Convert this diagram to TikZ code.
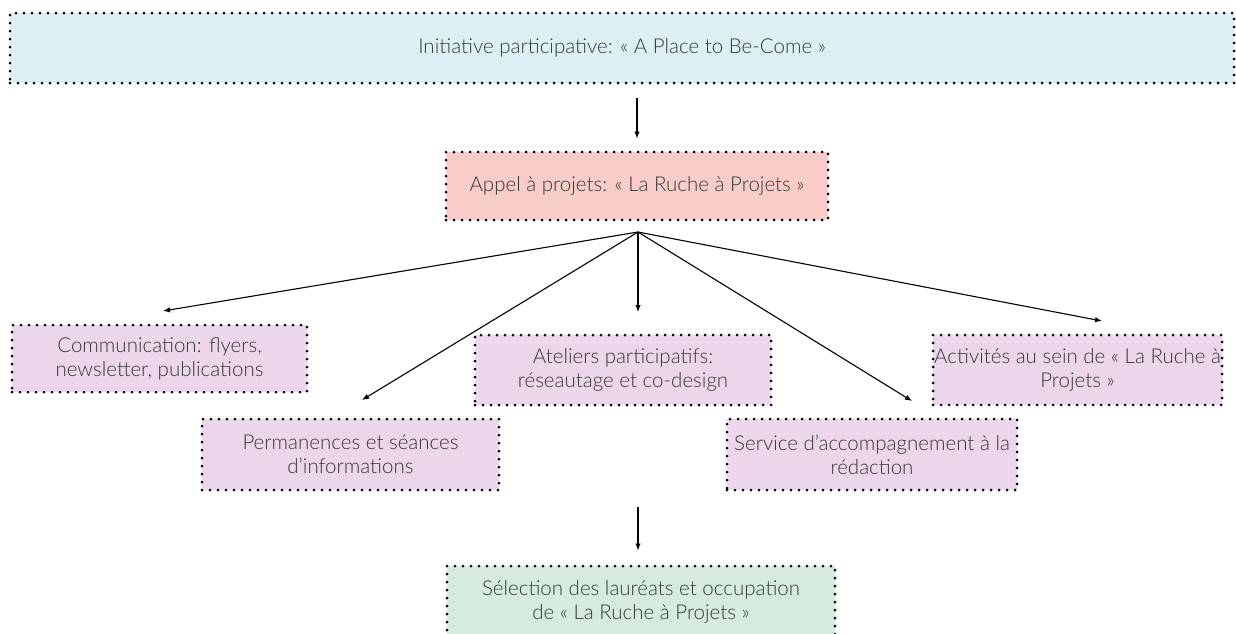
\documentclass[tikz,border=0pt]{standalone}
\usepackage{fontspec}
\setmainfont{Lato Light}
\usetikzlibrary{arrows.meta}
\definecolor{cblue}{RGB}{222,238,245}
\definecolor{cpink}{RGB}{248,204,200}
\definecolor{clilac}{RGB}{235,214,235}
\definecolor{cgreen}{RGB}{214,235,221}
\definecolor{textgray}{RGB}{55,55,55}
\tikzset{
  box/.style={draw=black, line width=3pt, dash pattern=on 0pt off 8pt, line cap=round,
    inner sep=0pt, align=center, text=textgray, font=\fontsize{20.5}{24}\selectfont},
  arr/.style={-{Latex[length=7pt,width=5.5pt]}, line width=1.1pt, black}
}
\begin{document}
\begin{tikzpicture}[x=1pt,y=-1pt]
\useasboundingbox (0,0) rectangle (1236,633);
\clip (0,0) rectangle (1236,633);
\node[box, fill=cblue, minimum width=1224pt, minimum height=70pt] (top) at (622,48) {Initiative participative: « A Place to Be-Come »};
\node[box, fill=cpink, minimum width=382pt, minimum height=68pt] (appel) at (637,186) {Appel à projets: « La Ruche à Projets »};
\node[box, fill=clilac, minimum width=295pt, minimum height=67pt] (comm) at (159.5,358.5) {Communication: flyers,\\newsletter, publications};
\node[box, fill=clilac, minimum width=296pt, minimum height=70pt] (atel) at (623,370) {Ateliers participatifs:\\réseautage et co-design};
\node[box, fill=clilac, minimum width=289pt, minimum height=70pt] (activ) at (1077.5,370) {Activités au sein de « La Ruche à\\Projets »};
\node[box, fill=clilac, minimum width=297pt, minimum height=71pt] (perm) at (350.5,454.5) {Permanences et séances\\d’informations};
\node[box, fill=clilac, minimum width=290pt, minimum height=71pt] (serv) at (872,454.5) {Service d’accompagnement à la\\rédaction};
\node[box, fill=cgreen, minimum width=388pt, minimum height=72pt] (sel) at (641,602) {Sélection des lauréats et occupation\\de « La Ruche à Projets »};

\coordinate (fan) at (638,232);
\coordinate (tcomm) at (163,311);
\coordinate (tperm) at (362,400);
\coordinate (tatel) at (638,312);
\coordinate (tserv) at (912,401);
\coordinate (tactiv) at (1102,321);
\coordinate (bs) at (638,507);

\draw[arr, shorten <=13pt, shorten >=12pt] (appel.north |- top.south) -- (appel.north);
\foreach \t in {tcomm,tperm,tatel,tserv,tactiv} \draw[arr] (fan) -- (\t);
\draw[arr, shorten >=14pt] (bs) -- (bs |- sel.north);
\end{tikzpicture}
\end{document}
